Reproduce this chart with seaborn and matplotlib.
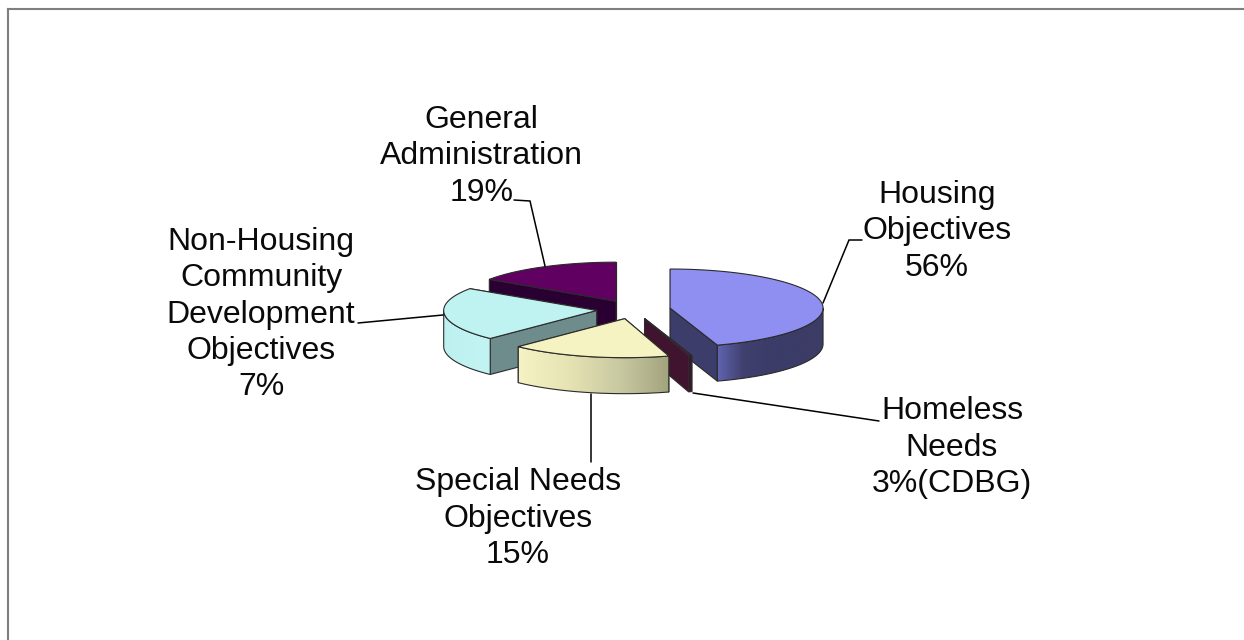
import numpy as np
import matplotlib
matplotlib.use("Agg")
import matplotlib.pyplot as plt
from matplotlib.patches import Polygon
import seaborn as sns

# ---- data ----
names = ["Housing\nObjectives", "Homeless\nNeeds", "Special Needs\nObjectives",
         "Non-Housing\nCommunity\nDevelopment\nObjectives", "General\nAdministration"]
printed_percent = [56, 3, 15, 7, 19]
percent_suffix = ["%", "%(CDBG)", "%", "%", "%"]
# share of the circle each slice really occupies in the drawing (percent)
drawn_share = [45.0, 0.35, 16.9, 22.2, 15.55]

top_colors = ["#8f8ff2", "#5a1a3c", "#f4f3c1", "#bff3f2", "#600060"]
face_colors = ["#3d3d6b", "#40142e", "#a3a37e", "#6e8c8c", "#2a0033"]
side_ramps = [["#6064b0", "#40406f", "#3c3c68", "#3c3c68", "#3c3c66"],
              ["#40142e", "#40142e"],
              ["#f5f3c3", "#e6e4b4", "#c9c9a2", "#a3a37e"],
              ["#bdf1f0", "#c2f4f3"],
              ["#2a0033", "#2a0033"]]
draw_order = [4, 0, 3, 1, 2]

label_pos = [(937, 231.5), (952, 447.5), (518, 518.5), (261, 314.5), (481.5, 156.5)]
leaders = [[(823, 303), (849, 240), (862, 240)],
           [(693, 393), (879, 421)],
           [(591, 394), (591, 462)],
           [(443, 315), (358, 323)],
           [(545, 266), (530, 201), (514, 200)]]

# ---- layout ----
W, H = 1244, 640
CX, CY = 633.5, 309.5
RX, RY = 153.0, 39.0
EXPLODE = 37.0
DEPTH = 36.0
EDGE = "#2b2b2b"

sns.set_theme(style="white")
plt.rcParams["font.family"] = ["Liberation Sans", "DejaVu Sans"]

fig = plt.figure(figsize=(W / 100, H / 100), dpi=100, facecolor="white")
ax = fig.add_axes([8 / W, 0, (W - 8) / W, (H - 9) / H])
ax.set_xlim(8, W)
ax.set_ylim(H, 9)
ax.set_xticks([])
ax.set_yticks([])
ax.set_autoscale_on(False)
sns.despine(ax=ax, right=True, bottom=True, top=False, left=False)
for s in ("top", "left"):
    ax.spines[s].set_color("#7f7f7f")
    ax.spines[s].set_linewidth(1.5)

edges = np.concatenate([[0], np.cumsum(drawn_share)]) / np.sum(drawn_share) * 2 * np.pi


def rim(ox, oy, angles, drop=0.0):
    return np.column_stack([ox + RX * np.sin(angles), oy - RY * np.cos(angles) + drop])


for z, i in enumerate(draw_order):
    t0, t1 = edges[i], edges[i + 1]
    mid = (t0 + t1) / 2
    ox = CX + EXPLODE * np.sin(mid)
    oy = CY - EXPLODE * (RY / RX) * np.cos(mid)
    base = z * 10 + 1

    # flat cut faces, the one nearer the viewer painted last
    for t in sorted((t0, t1), key=lambda a: -np.cos(a)):
        p = rim(ox, oy, np.array([t]))[0]
        ax.add_patch(Polygon([(ox, oy), p, (p[0], p[1] + DEPTH), (ox, oy + DEPTH)],
                             closed=True, facecolor=face_colors[i], edgecolor=EDGE,
                             linewidth=0.8, zorder=base))

    # front part of the rounded wall, with its colour ramp
    a0, a1 = max(t0, np.pi / 2), min(t1, 3 * np.pi / 2)
    if a1 > a0:
        arc = np.linspace(a0, a1, 90)
        upper = rim(ox, oy, arc)
        lower = rim(ox, oy, arc, DEPTH)[::-1]
        wall = Polygon(np.vstack([upper, lower]), closed=True, facecolor="none",
                       edgecolor=EDGE, linewidth=0.8, zorder=base + 2)
        ax.add_patch(wall)
        cmap = sns.blend_palette(side_ramps[i], n_colors=128, as_cmap=True)
        img = ax.imshow(np.linspace(0, 1, 256)[None, :], cmap=cmap, aspect="auto",
                        extent=(upper[:, 0].min(), upper[:, 0].max(), oy + RY + DEPTH, oy - RY),
                        zorder=base + 1, interpolation="bilinear")
        img.set_clip_path(wall)

    # top of the slice
    arc = np.linspace(t0, t1, 160)
    ax.add_patch(Polygon(np.vstack([[ox, oy], rim(ox, oy, arc)]), closed=True,
                         facecolor=top_colors[i], edgecolor=EDGE, linewidth=0.8,
                         zorder=base + 3))

ax.set_xlim(8, W)
ax.set_ylim(H, 9)

for i, name in enumerate(names):
    x, y = label_pos[i]
    ax.text(x, y, f"{name}\n{printed_percent[i]}{percent_suffix[i]}", ha="center", va="center",
            fontsize=23, color="#0a0a0a", linespacing=1.28, zorder=100)
    xs, ys = zip(*leaders[i])
    ax.plot(xs, ys, color="black", linewidth=1.1, zorder=90, solid_joinstyle="miter")

fig.savefig("out.png", dpi=100, facecolor="white")
